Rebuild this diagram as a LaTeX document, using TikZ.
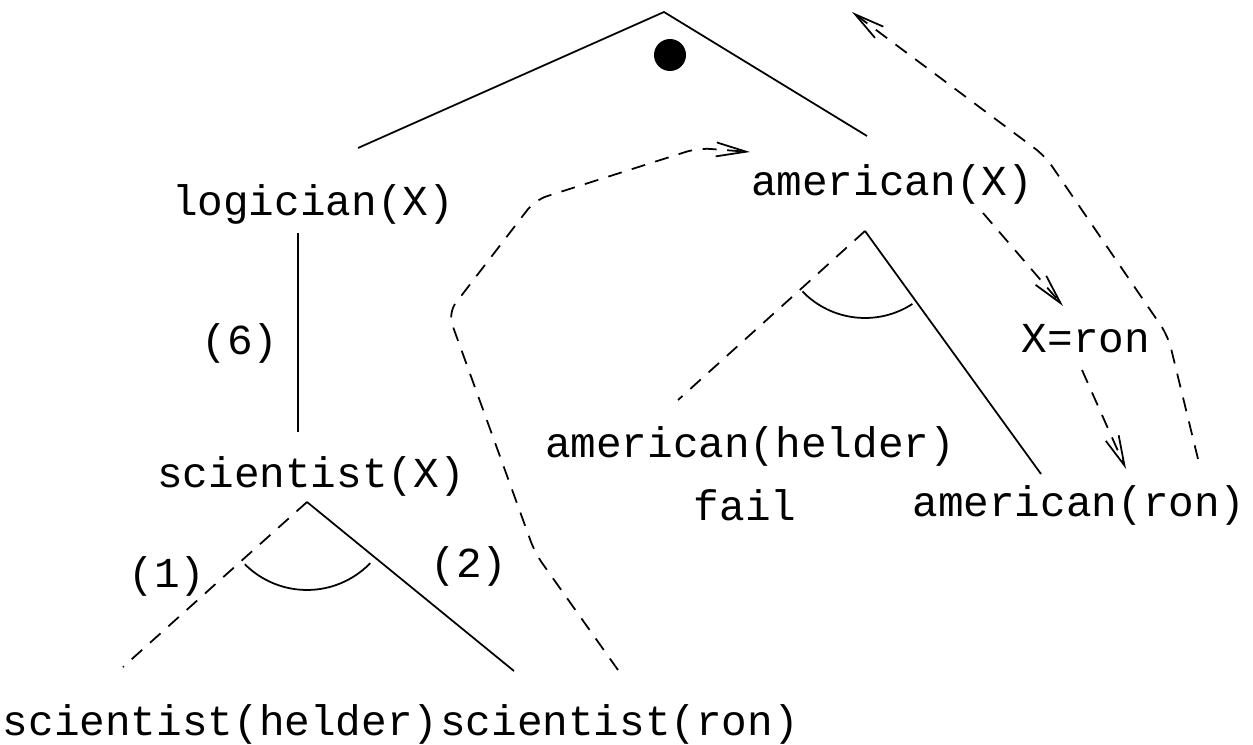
\documentclass[tikz,border=0pt]{standalone}
\usepackage{fontspec}
\setmonofont{Liberation Mono}
\usetikzlibrary{arrows.meta, calc}

\begin{document}
\begin{tikzpicture}[
        x=0.02cm, y=-0.02cm,
        line width=1pt,
        >={Straight Barb[length=6mm, width=2.8mm]},
        goal/.style={font=\ttfamily\fontsize{24.3}{29}\selectfont, inner sep=0pt, anchor=base},
        trace/.style={dash pattern=on 8pt off 6pt, rounded corners=0.25cm},
        marker/.style={circle, fill=black, inner sep=0pt, minimum size=0.64cm}
    ]
        \useasboundingbox (0,0) rectangle (1253,744);

        % --- Wurzel ---
        \coordinate (root) at (664,12);
        \coordinate (logicup) at (358,148);
        \coordinate (amerup) at (867,136);
        \node[marker] (sel) at (670,55) {};
        \draw (logicup) -- (root) -- (amerup);

        % --- linker Zweig ---
        \node[goal] (logic) at (313,215) {logician(X)};
        \node[goal] (six) at (240,354) {(6)};
        \node[goal] (sci) at (311,487) {scientist(X)};
        \coordinate (logicdn) at (298,233);
        \coordinate (scitop) at (298,432);
        \draw (logicdn) -- (scitop);

        \coordinate (scifork) at (307,502);
        \coordinate (helderup) at (123,667);
        \coordinate (ronup) at (514,671);
        \draw[trace] (scifork) -- (helderup);
        \draw (scifork) -- (ronup);
        \draw (scifork) ++(225:1.76cm) arc[start angle=225, end angle=316, radius=1.76cm];
        \node[goal] (one) at (167,587) {(1)};
        \node[goal] (two) at (469,577) {(2)};
        \node[goal, anchor=base west] (scihelder) at (2,735) {scientist(helder)};
        \node[goal, anchor=base west] (sciron) at (scihelder.base east) {scientist(ron)};

        % --- rechter Zweig ---
        \node[goal] (amer) at (892,195) {american(X)};
        \coordinate (amerfork) at (865,231);
        \coordinate (amhelderup) at (678,400);
        \coordinate (amronup) at (1041,474);
        \draw[trace] (amerfork) -- (amhelderup);
        \draw (amerfork) -- (amronup);
        \draw (amerfork) ++(224:1.74cm) arc[start angle=224, end angle=303, radius=1.74cm];
        \node[goal] (amhelder) at (750,457) {american(helder)};
        \node[goal] (fail) at (745,520) {fail};
        \node[goal] (amron) at (1079,516) {american(ron)};
        \node[goal] (xron) at (1086,352) {X=ron};

        % --- Suchpfad ---
        \coordinate (leftlow) at (618,670);
        \coordinate (lefthead) at (750,152);
        \draw[trace, ->] (leftlow) -- (535,553) -- (448,313) -- (535,200) -- (698,148) -- (lefthead);
        \coordinate (bindfrom) at (983,213);
        \coordinate (bindto) at (1063,306);
        \draw[trace, ->] (bindfrom) -- (bindto);
        \coordinate (ronfrom) at (1082,370);
        \coordinate (ronto) at (1126,469);
        \draw[trace, ->] (ronfrom) -- (ronto);
        \coordinate (backlow) at (1198,459);
        \coordinate (backhead) at (852,12);
        \draw[trace, ->] (backlow) -- (1168,336) -- (1045,156) -- (backhead);
    \end{tikzpicture}
\end{document}
